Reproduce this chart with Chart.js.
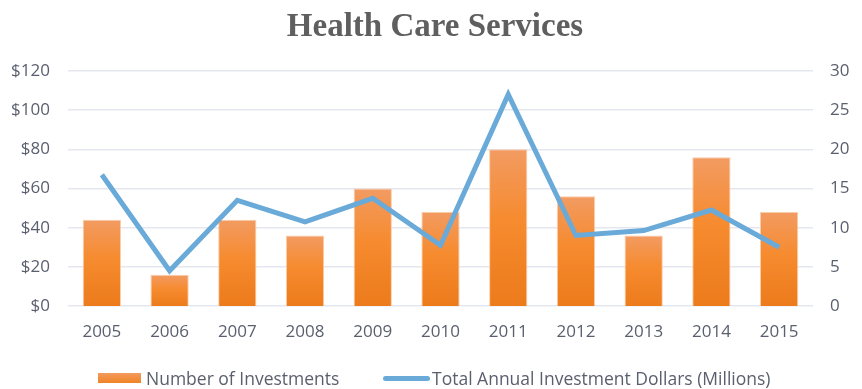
<!DOCTYPE html>
<html>
<head>
<meta charset="utf-8">
<script src="https://cdn.jsdelivr.net/npm/chart.js@4/dist/chart.umd.min.js"></script>
<style>
  html, body { margin: 0; padding: 0; background: #ffffff; }
  #wrap { position: relative; width: 862px; height: 389px; overflow: hidden; }
  #title { position: absolute; left: 0; top: 9px; width: 862px; padding-left: 8px; box-sizing: border-box;
    text-align: center; font-family: "Liberation Serif", serif; font-weight: bold; font-size: 33px; line-height: 33px; color: #5f5f5f; }
  .lg { position: absolute; font-family: "Open Sans", sans-serif; font-size: 17.5px; line-height: 20px; color: #5a5f6e; white-space: nowrap; }
  #sw1 { position: absolute; left: 98px; top: 373px; width: 43px; height: 10px; background: linear-gradient(#f29a5e, #f08426); }
  #sw2 { position: absolute; left: 383px; top: 376px; width: 47px; height: 5px; border-radius: 3px; background: #6aaad8; }
</style>
</head>
<body>
<div id="wrap">
  <canvas id="c" width="862" height="389"></canvas>
  <div id="title">Health Care Services</div>
  <div id="sw1"></div>
  <div class="lg" style="left:146px; top:368px;">Number of Investments</div>
  <div id="sw2"></div>
  <div class="lg" style="left:432px; top:368px;">Total Annual Investment Dollars (Millions)</div>
</div>
<script>
const years = ["2005","2006","2007","2008","2009","2010","2011","2012","2013","2014","2015"];
const numberOfInvestments = [11, 4, 11, 9, 15, 12, 20, 14, 9, 19, 12];
const investmentDollars = [67, 18, 54, 43, 55, 31, 108, 36, 38.5, 49, 30];
const dollarTicks = [0, 20, 40, 60, 80, 100, 120];
const countTicks = [0, 5, 10, 15, 20, 25, 30];

const tickColor = "#5a5f6e";
const tickFont = { family: "'Open Sans', sans-serif", size: 17 };

function barGradient(ctx) {
  const chart = ctx.chart;
  const area = chart.chartArea;
  if (!area || ctx.parsed == null) return "#f28a30";
  const yScale = chart.scales.y1;
  const top = yScale.getPixelForValue(ctx.parsed.y);
  const bottom = yScale.getPixelForValue(0);
  if (!isFinite(top) || bottom - top < 1) return "#f28a30";
  const g = chart.ctx.createLinearGradient(0, top, 0, bottom);
  g.addColorStop(0, "#f29b62");
  g.addColorStop(0.45, "#f68b2f");
  g.addColorStop(1, "#ec7b1b");
  return g;
}

new Chart(document.getElementById("c"), {
  data: {
    labels: years,
    datasets: [
      {
        type: "line",
        label: "Total Annual Investment Dollars (Millions)",
        data: investmentDollars,
        yAxisID: "y",
        borderColor: "#6aaad8",
        borderWidth: 5,
        pointRadius: 0,
        tension: 0,
        fill: false,
        order: 0
      },
      {
        type: "bar",
        label: "Number of Investments",
        data: numberOfInvestments,
        yAxisID: "y1",
        backgroundColor: barGradient,
        borderColor: "rgba(250,200,160,0.9)",
        borderWidth: 1,
        barPercentage: 0.565,
        categoryPercentage: 1.0,
        order: 1
      }
    ]
  },
  options: {
    responsive: false,
    animation: false,
    layout: { padding: { top: 71, bottom: 43, left: 0, right: 0 } },
    plugins: {
      legend: { display: false },
      title: { display: false },
      tooltip: { enabled: false }
    },
    scales: {
      x: {
        grid: { display: false, drawTicks: false },
        border: { display: false },
        ticks: { color: tickColor, font: tickFont, padding: 16, maxRotation: 0 },
        afterFit(s) { s.height = 40; }
      },
      y: {
        position: "left",
        min: 0, max: 120,
        grid: { color: "#e4e7ef", lineWidth: 1.5, drawTicks: false },
        border: { display: false },
        afterBuildTicks(s) { s.ticks = dollarTicks.map(v => ({ value: v })); },
        ticks: { color: tickColor, font: tickFont, padding: 18, callback: v => "$" + v },
        afterFit(s) { s.width = 68; }
      },
      y1: {
        position: "right",
        min: 0, max: 30,
        grid: { display: false, drawTicks: false },
        border: { display: false },
        afterBuildTicks(s) { s.ticks = countTicks.map(v => ({ value: v })); },
        ticks: { color: tickColor, font: tickFont, padding: 17 },
        afterFit(s) { s.width = 49; }
      }
    }
  }
});
</script>
</body>
</html>
